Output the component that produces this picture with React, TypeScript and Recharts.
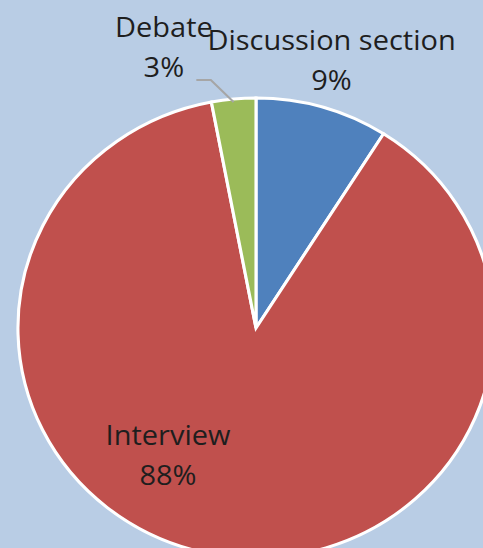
import { PieChart, Pie, Cell } from 'recharts'

const categories = ['Discussion section', 'Interview', 'Debate']
const shares = [9, 88, 3]
const colors = ['#4F81BD', '#C0504D', '#9BBB59']

const data = categories.map((name, i) => ({ name, value: shares[i] }))

// label placement relative to pie center (first line baseline), before the x stretch
const labelOffset: Record<string, { dx: number; dy: number }> = {
  'Discussion section': { dx: 73, dy: -278 },
  Interview: { dx: -85, dy: 117 },
  Debate: { dx: -89, dy: -291 },
}

const RADIAN = Math.PI / 180
const FONT = '"Open Sans", Lato, sans-serif'
const STRETCH = 1.035

const renderLabel = ({ cx, cy, midAngle, outerRadius, name, value }: any) => {
  const off = labelOffset[name]
  const x = cx + off.dx
  const y = cy + off.dy
  let line = null
  if (name === 'Debate') {
    const ex = cx + outerRadius * Math.cos(-midAngle * RADIAN)
    const ey = cy + outerRadius * Math.sin(-midAngle * RADIAN)
    line = (
      <polyline
        points={`${ex},${ey + 3} ${ex - 22},${ey - 19} ${ex - 36},${ey - 19}`}
        fill="none"
        stroke="#A6A6A6"
        strokeWidth={2}
      />
    )
  }
  return (
    <g>
      {line}
      <text x={x} y={y} textAnchor="middle" fill="#1E1E1E" fontSize={28} fontFamily={FONT}>
        {name}
      </text>
      <text x={x} y={y + 40} textAnchor="middle" fill="#1E1E1E" fontSize={28} fontFamily={FONT}>
        {`${value}%`}
      </text>
    </g>
  )
}

export default function App() {
  return (
    <div style={{ position: 'absolute', left: 0, top: 0, width: 483, height: 548, background: '#B9CDE5', overflow: 'hidden' }}>
      <div style={{ transform: `scaleX(${STRETCH})`, transformOrigin: '256px 0' }}>
        <PieChart width={483} height={548} margin={{ top: 0, right: 0, bottom: 0, left: 0 }} style={{ overflow: 'visible' }}>
          <Pie
            data={data}
            dataKey="value"
            cx={256}
            cy={328}
            outerRadius={230}
            startAngle={90}
            endAngle={-270}
            stroke="#FFFFFF"
            strokeWidth={3}
            labelLine={false}
            label={renderLabel}
            isAnimationActive={false}
          >
            {data.map((d, i) => (
              <Cell key={d.name} fill={colors[i]} />
            ))}
          </Pie>
        </PieChart>
      </div>
    </div>
  )
}
